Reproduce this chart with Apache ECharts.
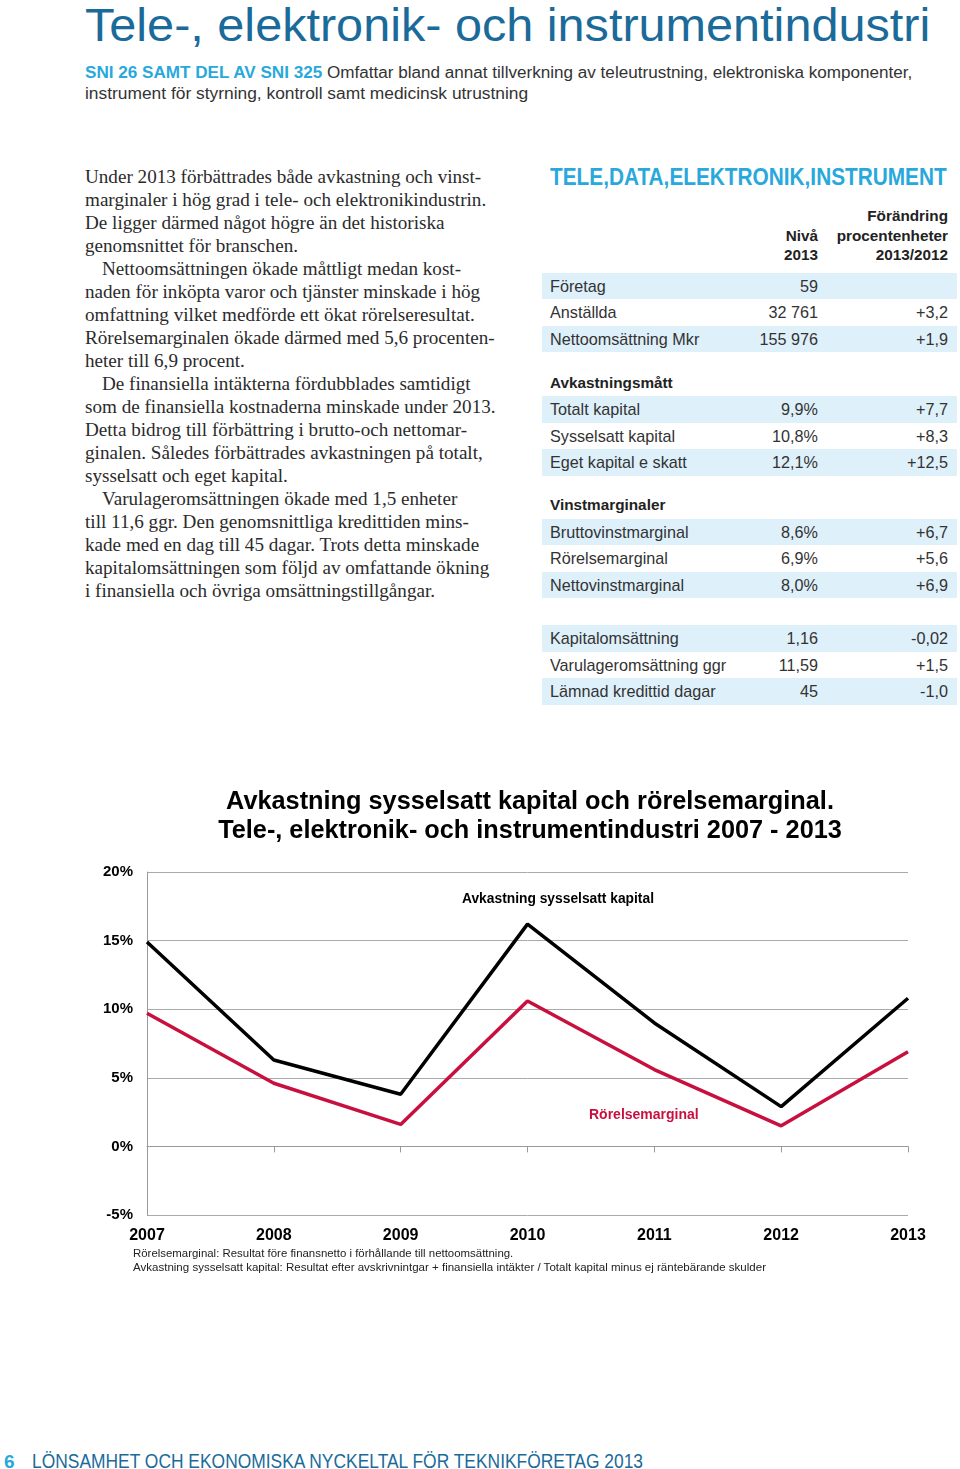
<!DOCTYPE html>
<html><head><meta charset="utf-8">
<script src="https://cdn.jsdelivr.net/npm/echarts@6/dist/echarts.min.js"></script>
<style>
html,body{margin:0;padding:0;background:#fff;}
body{width:960px;height:1469px;position:relative;overflow:hidden;font-family:"Liberation Sans",Arial,sans-serif;}
.t{position:absolute;white-space:nowrap;}
.bg{position:absolute;left:542px;width:415px;height:26.6px;background:#def0fa;}
#chart{position:absolute;left:0;top:770px;width:960px;height:530px;}
</style></head><body>
<div id="chart"></div>
<script>
// ---- chart data ----
const years = ['2007','2008','2009','2010','2011','2012','2013'];
const avkastningSysselsatt = [14.9, 6.3, 3.8, 16.2, 9.0, 2.9, 10.8];
const rorelsemarginal = [9.7, 4.6, 1.6, 10.6, 5.6, 1.5, 6.9];

// ---- table data ----
const tableLabels1 = ['Företag','Anställda','Nettoomsättning Mkr'];
const tableLevels1 = ['59','32 761','155 976'];
const tableChanges1 = ['','+3,2','+1,9'];
const tableLabels2 = ['Totalt kapital','Sysselsatt kapital','Eget kapital e skatt'];
const tableLevels2 = ['9,9%','10,8%','12,1%'];
const tableChanges2 = ['+7,7','+8,3','+12,5'];
const tableLabels3 = ['Bruttovinstmarginal','Rörelsemarginal','Nettovinstmarginal'];
const tableLevels3 = ['8,6%','6,9%','8,0%'];
const tableChanges3 = ['+6,7','+5,6','+6,9'];
const tableLabels4 = ['Kapitalomsättning','Varulageromsättning ggr','Lämnad kredittid dagar'];
const tableLevels4 = ['1,16','11,59','45'];
const tableChanges4 = ['-0,02','+1,5','-1,0'];

const bodyLines = [
 ['Under 2013 förbättrades både avkastning och vinst-',0],
 ['marginaler i hög grad i tele- och elektronikindustrin.',0],
 ['De ligger därmed något högre än det historiska',0],
 ['genomsnittet för branschen.',0],
 ['Nettoomsättningen ökade måttligt medan kost-',1],
 ['naden för inköpta varor och tjänster minskade i hög',0],
 ['omfattning vilket medförde ett ökat rörelseresultat.',0],
 ['Rörelsemarginalen ökade därmed med 5,6 procenten-',0],
 ['heter till 6,9 procent.',0],
 ['De finansiella intäkterna fördubblades samtidigt',1],
 ['som de finansiella kostnaderna minskade under 2013.',0],
 ['Detta bidrog till förbättring i brutto-och nettomar-',0],
 ['ginalen. Således förbättrades avkastningen på totalt,',0],
 ['sysselsatt och eget kapital.',0],
 ['Varulageromsättningen ökade med 1,5 enheter',1],
 ['till 11,6 ggr. Den genomsnittliga kredittiden mins-',0],
 ['kade med en dag till 45 dagar. Trots detta minskade',0],
 ['kapitalomsättningen som följd av omfattande ökning',0],
 ['i finansiella och övriga omsättningstillgångar.',0]
];

function T(html, x, yc, o) {
  o = o || {};
  const el = document.createElement('div');
  el.className = 't';
  el.innerHTML = html;
  const size = o.size || 15;
  const lh = Math.round(size * 1.3);
  el.style.fontSize = size + 'px';
  el.style.lineHeight = lh + 'px';
  el.style.top = (yc - lh / 2) + 'px';
  el.style.fontWeight = o.weight || 'normal';
  el.style.color = o.color || '#333';
  if (o.family) el.style.fontFamily = o.family;
  if (o.align === 'right') { el.style.right = (960 - x) + 'px'; el.style.transformOrigin = '100% 50%'; }
  else { el.style.left = x + 'px'; el.style.transformOrigin = '0 50%'; }
  document.body.appendChild(el);
  if (o.fit) { const w = el.offsetWidth; el.style.transform = 'scaleX(' + (o.fit / w) + ')'; }
  return el;
}
function BG(yTop){ const d=document.createElement('div'); d.className='bg'; d.style.top=yTop+'px'; document.body.appendChild(d); }

// Header
T('Tele-, elektronik- och instrumentindustri', 85, 25, {size:46, color:'#1a6b9a', fit:845});
T('<b style="color:#29a8dc">SNI 26 SAMT DEL AV SNI 325</b> Omfattar bland annat tillverkning av teleutrustning, elektroniska komponenter,', 85, 72, {size:16, color:'#333', fit:827});
T('instrument för styrning, kontroll samt medicinsk utrustning', 85, 93, {size:16, color:'#333', fit:443});

// Body text
(function(){
  const probe = T(bodyLines[10][0], 0, -100, {size:17, family:'"Liberation Serif", serif'});
  const fs = 17 * 411 / probe.offsetWidth;
  probe.remove();
  bodyLines.forEach((l, i) => {
    T(l[0], l[1] ? 102 : 85, 176 + i * 23.0, {size:fs, family:'"Liberation Serif", serif', color:'#2b2b2b'});
  });
})();

// Table
T('TELE,DATA,ELEKTRONIK,INSTRUMENT', 550, 177, {size:23, weight:'bold', color:'#29a8dc', fit:397});
const HS = {size:15.3, weight:'bold', color:'#222', align:'right'};
T('Förändring', 948, 216, HS);
T('procentenheter', 948, 236, HS);
T('2013/2012', 948, 255, HS);
T('Nivå', 818, 236, HS);
T('2013', 818, 255, HS);

function block(labels, levels, changes, y0, header, hy) {
  if (header) T(header, 550, hy, {size:15.3, weight:'bold', color:'#222'});
  labels.forEach((lab, i) => {
    const yc = y0 + i * 26.6;
    if (i % 2 === 0) BG(yc - 13.3);
  });
  labels.forEach((lab, i) => {
    const yc = y0 + i * 26.6;
    T(lab, 550, yc, {size:16.2, color:'#333'});
    T(levels[i], 818, yc, {size:16.2, color:'#333', align:'right'});
    if (changes[i]) T(changes[i], 948, yc, {size:16.2, color:'#333', align:'right'});
  });
}
block(tableLabels1, tableLevels1, tableChanges1, 286);
block(tableLabels2, tableLevels2, tableChanges2, 409.5, 'Avkastningsmått', 383);
block(tableLabels3, tableLevels3, tableChanges3, 532, 'Vinstmarginaler', 505);
block(tableLabels4, tableLevels4, tableChanges4, 638.5);

// Footnotes
T('Rörelsemarginal: Resultat före finansnetto i förhållande till nettoomsättning.', 133, 1253, {size:11, color:'#222', fit:380});
T('Avkastning sysselsatt kapital: Resultat efter avskrivnintgar + finansiella intäkter / Totalt kapital minus ej räntebärande skulder', 133, 1266.5, {size:11, color:'#222', fit:633});

// Footer
T('6', 4, 1461, {size:19, weight:'bold', color:'#29a8dc'});
T('LÖNSAMHET OCH EKONOMISKA NYCKELTAL FÖR TEKNIKFÖRETAG 2013', 32, 1461, {size:20, color:'#1a6b9a', fit:611});

// Chart
const chart = echarts.init(document.getElementById('chart'));
const F = '"Liberation Sans", Arial, sans-serif';
chart.setOption({
  animation: false,
  title: {
    text: 'Avkastning sysselsatt kapital och rörelsemarginal.\nTele-, elektronik- och instrumentindustri 2007 - 2013',
    left: 525, top: 13, textAlign: 'center',
    textStyle: {fontSize: 25.3, fontWeight: 'bold', color: '#000', lineHeight: 29, fontFamily: F}
  },
  grid: {left: 147, right: 52, top: 102, height: 343},
  xAxis: [
    {type: 'category', data: years, boundaryGap: false,
     axisLine: {onZero: true, lineStyle: {color: '#999'}},
     axisTick: {show: true, length: 6, lineStyle: {color: '#999'}},
     axisLabel: {show: false}, splitLine: {show: false}},
    {type: 'category', data: years, boundaryGap: false, position: 'bottom',
     axisLine: {show: false, onZero: false}, axisTick: {show: false},
     axisLabel: {interval: 0, fontSize: 16, fontWeight: 'bold', color: '#000', margin: 13, fontFamily: F}}
  ],
  yAxis: {
    type: 'value', min: -5, max: 20, interval: 5,
    axisLine: {show: true, lineStyle: {color: '#999'}},
    axisTick: {show: false},
    axisLabel: {formatter: '{value}%', fontSize: 15, fontWeight: 'bold', color: '#000', margin: 14, fontFamily: F},
    splitLine: {lineStyle: {color: '#aaa', width: 1}}
  },
  series: [
    {name: 'Avkastning sysselsatt kapital', type: 'line', data: avkastningSysselsatt, xAxisIndex: 0,
     symbol: 'none', lineStyle: {color: '#000', width: 3.5}},
    {name: 'Rörelsemarginal', type: 'line', data: rorelsemarginal, xAxisIndex: 0,
     symbol: 'none', lineStyle: {color: '#c8103e', width: 3.5}}
  ],
  graphic: [
    {type: 'text', left: 462, top: 122, style: {text: 'Avkastning sysselsatt kapital', fill: '#000', font: 'bold 13.8px ' + F}},
    {type: 'text', left: 589, top: 338, style: {text: 'Rörelsemarginal', fill: '#c8103e', font: 'bold 14px ' + F}}
  ]
});
</script>
</body></html>
